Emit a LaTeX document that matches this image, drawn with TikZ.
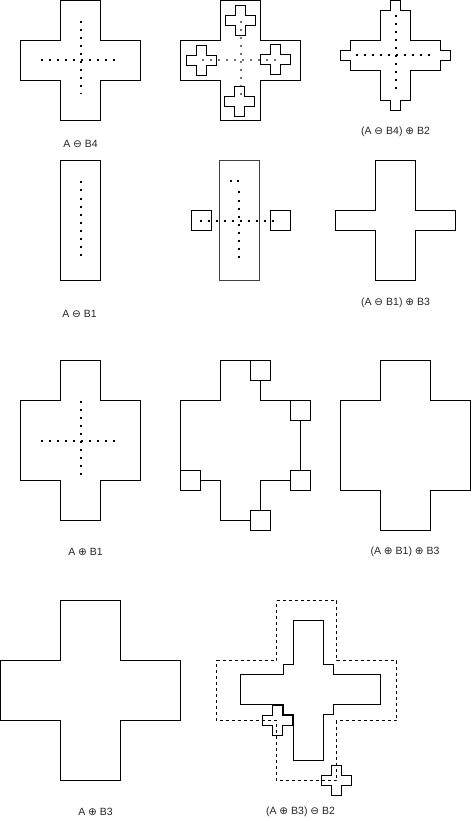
\documentclass[tikz,border=0pt]{standalone}
\usepackage{fontspec}
\setmainfont{Liberation Sans}
\newfontfamily\opfont{DejaVu Sans}
\usepackage{tikz}
\usetikzlibrary{positioning}
\newcommand{\ero}{{\opfont ⊖}}
\newcommand{\dil}{{\opfont ⊕}}
\tikzset{
  smallplus/.pic={
    \draw[line width=1pt] (-5,-15) -- (5,-15) -- (5,-5) -- (15,-5) -- (15,5) -- (5,5) -- (5,15)
      -- (-5,15) -- (-5,5) -- (-15,5) -- (-15,-5) -- (-5,-5) -- cycle;
  }
}

\begin{document}
\begin{tikzpicture}[
  x=1pt, y=-1pt,
  outline/.style={draw, line width=1pt},
  dashoutline/.style={draw, line width=1pt, dash pattern=on 3pt off 3pt},
  dotline/.style={line width=2pt, dash pattern=on 2pt off 6pt},
  lbl/.style={font=\fontsize{10.5}{12}\selectfont, text=black!85, inner sep=0pt}
]
  \useasboundingbox (-0.5,-0.5) rectangle (471.5,820.5);

  % row 1
  \draw[outline] (60,0) -- (100,0) -- (100,40) -- (140,40) -- (140,80) -- (100,80) -- (100,120)
    -- (60,120) -- (60,80) -- (20,80) -- (20,40) -- (60,40) -- cycle;
  \draw[dotline] (40,60) -- (115,60);
  \draw[dotline] (80,21) -- (80,94);
  \node[lbl] (erB4) at (80,143) {A \ero{} B4};

  \draw[outline] (220,0) -- (260,0) -- (260,40) -- (300,40) -- (300,80) -- (260,80) -- (260,120)
    -- (220,120) -- (220,80) -- (180,80) -- (180,40) -- (220,40) -- cycle;
  \draw[dotline, black!55] (201,60) -- (275,60);
  \draw[dotline, black!55] (240,21) -- (240,95);
  \pic at (240,20) {smallplus};
  \pic at (201,60) {smallplus};
  \pic at (275,59) {smallplus};
  \pic at (239,101) {smallplus};

  \draw[outline] (390,0) -- (400,0) -- (400,10) -- (410,10) -- (410,40) -- (440,40) -- (440,50)
    -- (450,50) -- (450,60) -- (440,60) -- (440,70) -- (410,70) -- (410,100) -- (400,100)
    -- (400,110) -- (390,110) -- (390,100) -- (380,100) -- (380,70) -- (350,70) -- (350,60)
    -- (340,60) -- (340,50) -- (350,50) -- (350,40) -- (380,40) -- (380,10) -- (390,10) -- cycle;
  \draw[dotline] (355,55) -- (431,55);
  \draw[dotline] (395,15) -- (395,90);
  \node[lbl] (dilB2) at (395,131) {(A \ero{} B4) \dil{} B2};

  % row 2
  \draw[outline] (60,160) rectangle (100,280);
  \draw[dotline] (80,181) -- (80,255);
  \node[lbl] (erB1) at (79,313) {A \ero{} B1};

  \draw[line width=1.5pt, black!75] (219,160) rectangle (259,280);
  \draw[outline] (191,210) rectangle (211,230);
  \draw[outline] (270,210) rectangle (290,230);
  \draw[dotline] (199,220) -- (278,220);
  \draw[dotline] (238,191) -- (238,257);
  \fill (229,179.3) rectangle ++(2,2);
  \fill (236.3,179.3) rectangle ++(2,2);

  \draw[outline] (375,160) -- (415,160) -- (415,210) -- (455,210) -- (455,230) -- (415,230)
    -- (415,280) -- (375,280) -- (375,230) -- (335,230) -- (335,210) -- (375,210) -- cycle;
  \node[lbl] (dilB3a) at (395,302) {(A \ero{} B1) \dil{} B3};

  % row 3
  \draw[outline] (60,360) -- (100,360) -- (100,400) -- (140,400) -- (140,480) -- (100,480)
    -- (100,520) -- (60,520) -- (60,480) -- (20,480) -- (20,400) -- (60,400) -- cycle;
  \draw[dotline] (40,440) -- (116,440);
  \draw[dotline] (80,400) -- (80,476);
  \node[lbl] (dilB1) at (85,551.5) {A \dil{} B1};

  \draw[outline] (250,360) -- (220,360) -- (220,400) -- (180,400) -- (180,470);
  \draw[outline] (200,480) -- (220,480) -- (220,520) -- (250,520);
  \draw[outline] (260,510) -- (260,480) -- (290,480);
  \draw[outline] (300,470) -- (300,420);
  \draw[outline] (290,400) -- (260,400) -- (260,380);
  \draw[outline] (250,360) rectangle (270,380);
  \draw[outline] (290,400) rectangle (310,420);
  \draw[outline] (290,470) rectangle (310,490);
  \draw[outline] (250,510) rectangle (270,530);
  \draw[outline] (180,470) rectangle (200,490);

  \draw[outline] (380,360) -- (430,360) -- (430,400) -- (470,400) -- (470,490) -- (430,490)
    -- (430,530) -- (380,530) -- (380,490) -- (340,490) -- (340,400) -- (380,400) -- cycle;
  \node[lbl] (dilB3b) at (404.5,551.5) {(A \dil{} B1) \dil{} B3};

  % row 4
  \draw[outline] (60,600) -- (120,600) -- (120,660) -- (180,660) -- (180,720) -- (120,720)
    -- (120,780) -- (60,780) -- (60,720) -- (0,720) -- (0,660) -- (60,660) -- cycle;
  \node[lbl] (dilB3c) at (95,811) {A \dil{} B3};

  \draw[dashoutline] (276,600) -- (336,600) -- (336,660) -- (396,660) -- (396,720) -- (336,720)
    -- (336,780) -- (276,780) -- (276,720) -- (216,720) -- (216,660) -- (276,660) -- cycle;
  \draw[outline] (293,620) -- (323,620) -- (323,664) -- (333,664) -- (333,674) -- (380,674)
    -- (380,704) -- (333,704) -- (333,714) -- (323,714) -- (323,760) -- (293,760) -- (293,714)
    -- (283,714) -- (283,704) -- (240,704) -- (240,674) -- (283,674) -- (283,664) -- (293,664) -- cycle;
  \pic at (277,720) {smallplus};
  \pic at (336,780) {smallplus};
  \node[lbl] (erB2) at (300,811) {(A \dil{} B3) \ero{} B2};
\end{tikzpicture}
\end{document}
